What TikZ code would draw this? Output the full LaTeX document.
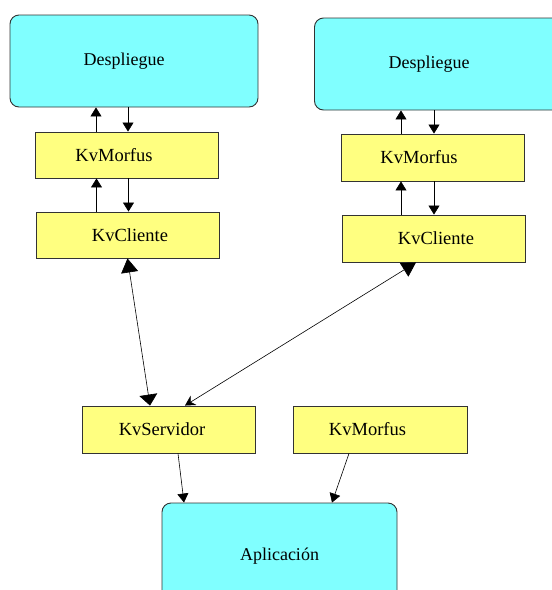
\documentclass[tikz,border=0pt]{standalone}
\usepackage{fontspec}
\setmainfont{Liberation Serif}
\usepackage{tikz}
\usetikzlibrary{arrows.meta,positioning}

\definecolor{despcyan}{HTML}{80FFFF}
\definecolor{modyellow}{HTML}{FFFF80}
\definecolor{edgegray}{HTML}{333333}

\tikzset{
    bloque/.style={draw=edgegray,line width=0.9pt,fill=despcyan,rounded corners=9pt,
        font=\fontsize{18}{20}\selectfont},
    modulo/.style={draw=edgegray,line width=0.9pt,fill=modyellow,
        minimum width=183pt,minimum height=46pt,font=\fontsize{18.5}{20}\selectfont},
    flecha/.style={line width=0.6pt,-{Triangle[length=9pt,width=11pt]}},
    enlace/.style={line width=0.6pt,
        {Triangle[length=14pt,width=17pt]}-{Triangle[length=11pt,width=18pt]}},
}

\begin{document}
\begin{tikzpicture}[x=1pt,y=-1pt]
    \clip (0,0) rectangle (552,590);
    \fill[white] (0,0) rectangle (552,590);
    % Despliegue
    \node[bloque,minimum width=248pt,minimum height=92pt] (despL) at (134,61) {Despliegue\hspace*{20pt}};
    \node[bloque,minimum width=255pt,minimum height=92pt] (despR) at (442,64) {Despliegue\hspace*{26pt}};
    % Cliente side, left
    \node[modulo] (morfL) at (127,155) {KvMorfus\hspace*{26pt}};
    \node[modulo] (cliL) at (127.5,235) {\hspace*{5pt}KvCliente};
    % Cliente side, right
    \node[modulo,minimum height=47pt] (morfR) at (432.5,157.5) {KvMorfus\hspace*{27pt}};
    \node[modulo,minimum height=47pt] (cliR) at (433.5,238.5) {\hspace*{5pt}KvCliente};
    % Servidor
    \node[modulo,minimum width=173pt,minimum height=47pt] (serv) at (168.5,429.5) {KvServidor\hspace*{13pt}};
    \node[modulo,minimum width=174pt,minimum height=47pt] (morfB) at (380,429.5) {KvMorfus\hspace*{25pt}};
    % Aplicacion
    \node[bloque,minimum width=235pt,minimum height=106pt] (apl) at (279.5,556) {Aplicación};

    % Despliegue <-> KvMorfus <-> KvCliente
    \draw[flecha] ([xshift=-31pt]morfL.north) -- ([xshift=-31pt]morfL.north |- despL.south);
    \draw[flecha] ([xshift=1pt]morfL.north |- despL.south) -- ([xshift=1pt]morfL.north);
    \draw[flecha] ([xshift=-31pt]cliL.north) -- ([xshift=-31pt]cliL.north |- morfL.south);
    \draw[flecha] ([xshift=1pt]cliL.north |- morfL.south) -- ([xshift=1pt]cliL.north);
    \draw[flecha] ([xshift=-31.5pt]morfR.north) -- ([xshift=-31.5pt]morfR.north |- despR.south);
    \draw[flecha] ([xshift=1.5pt]morfR.north |- despR.south) -- ([xshift=1.5pt]morfR.north);
    \draw[flecha] ([xshift=-32.5pt]cliR.north) -- ([xshift=-32.5pt]cliR.north |- morfR.south);
    \draw[flecha] ([xshift=0.5pt]cliR.north |- morfR.south) -- ([xshift=0.5pt]cliR.north);

    % KvCliente <-> KvServidor
    \draw[enlace] (cliL.south) -- ([xshift=-18.5pt]serv.north);
    \draw[line width=0.6pt,{Triangle[length=14pt,width=16pt]}-{Stealth[length=10pt,width=11pt]}]
        ([xshift=-17.5pt]cliR.south) -- ([xshift=16.5pt]serv.north);

    % hacia la Aplicacion
    \draw[flecha] ([xshift=9.5pt]serv.south) -- ([xshift=-95.5pt]apl.north);
    \draw[flecha] ([xshift=-31pt]morfB.south) -- ([xshift=52.5pt]apl.north);
\end{tikzpicture}
\end{document}
